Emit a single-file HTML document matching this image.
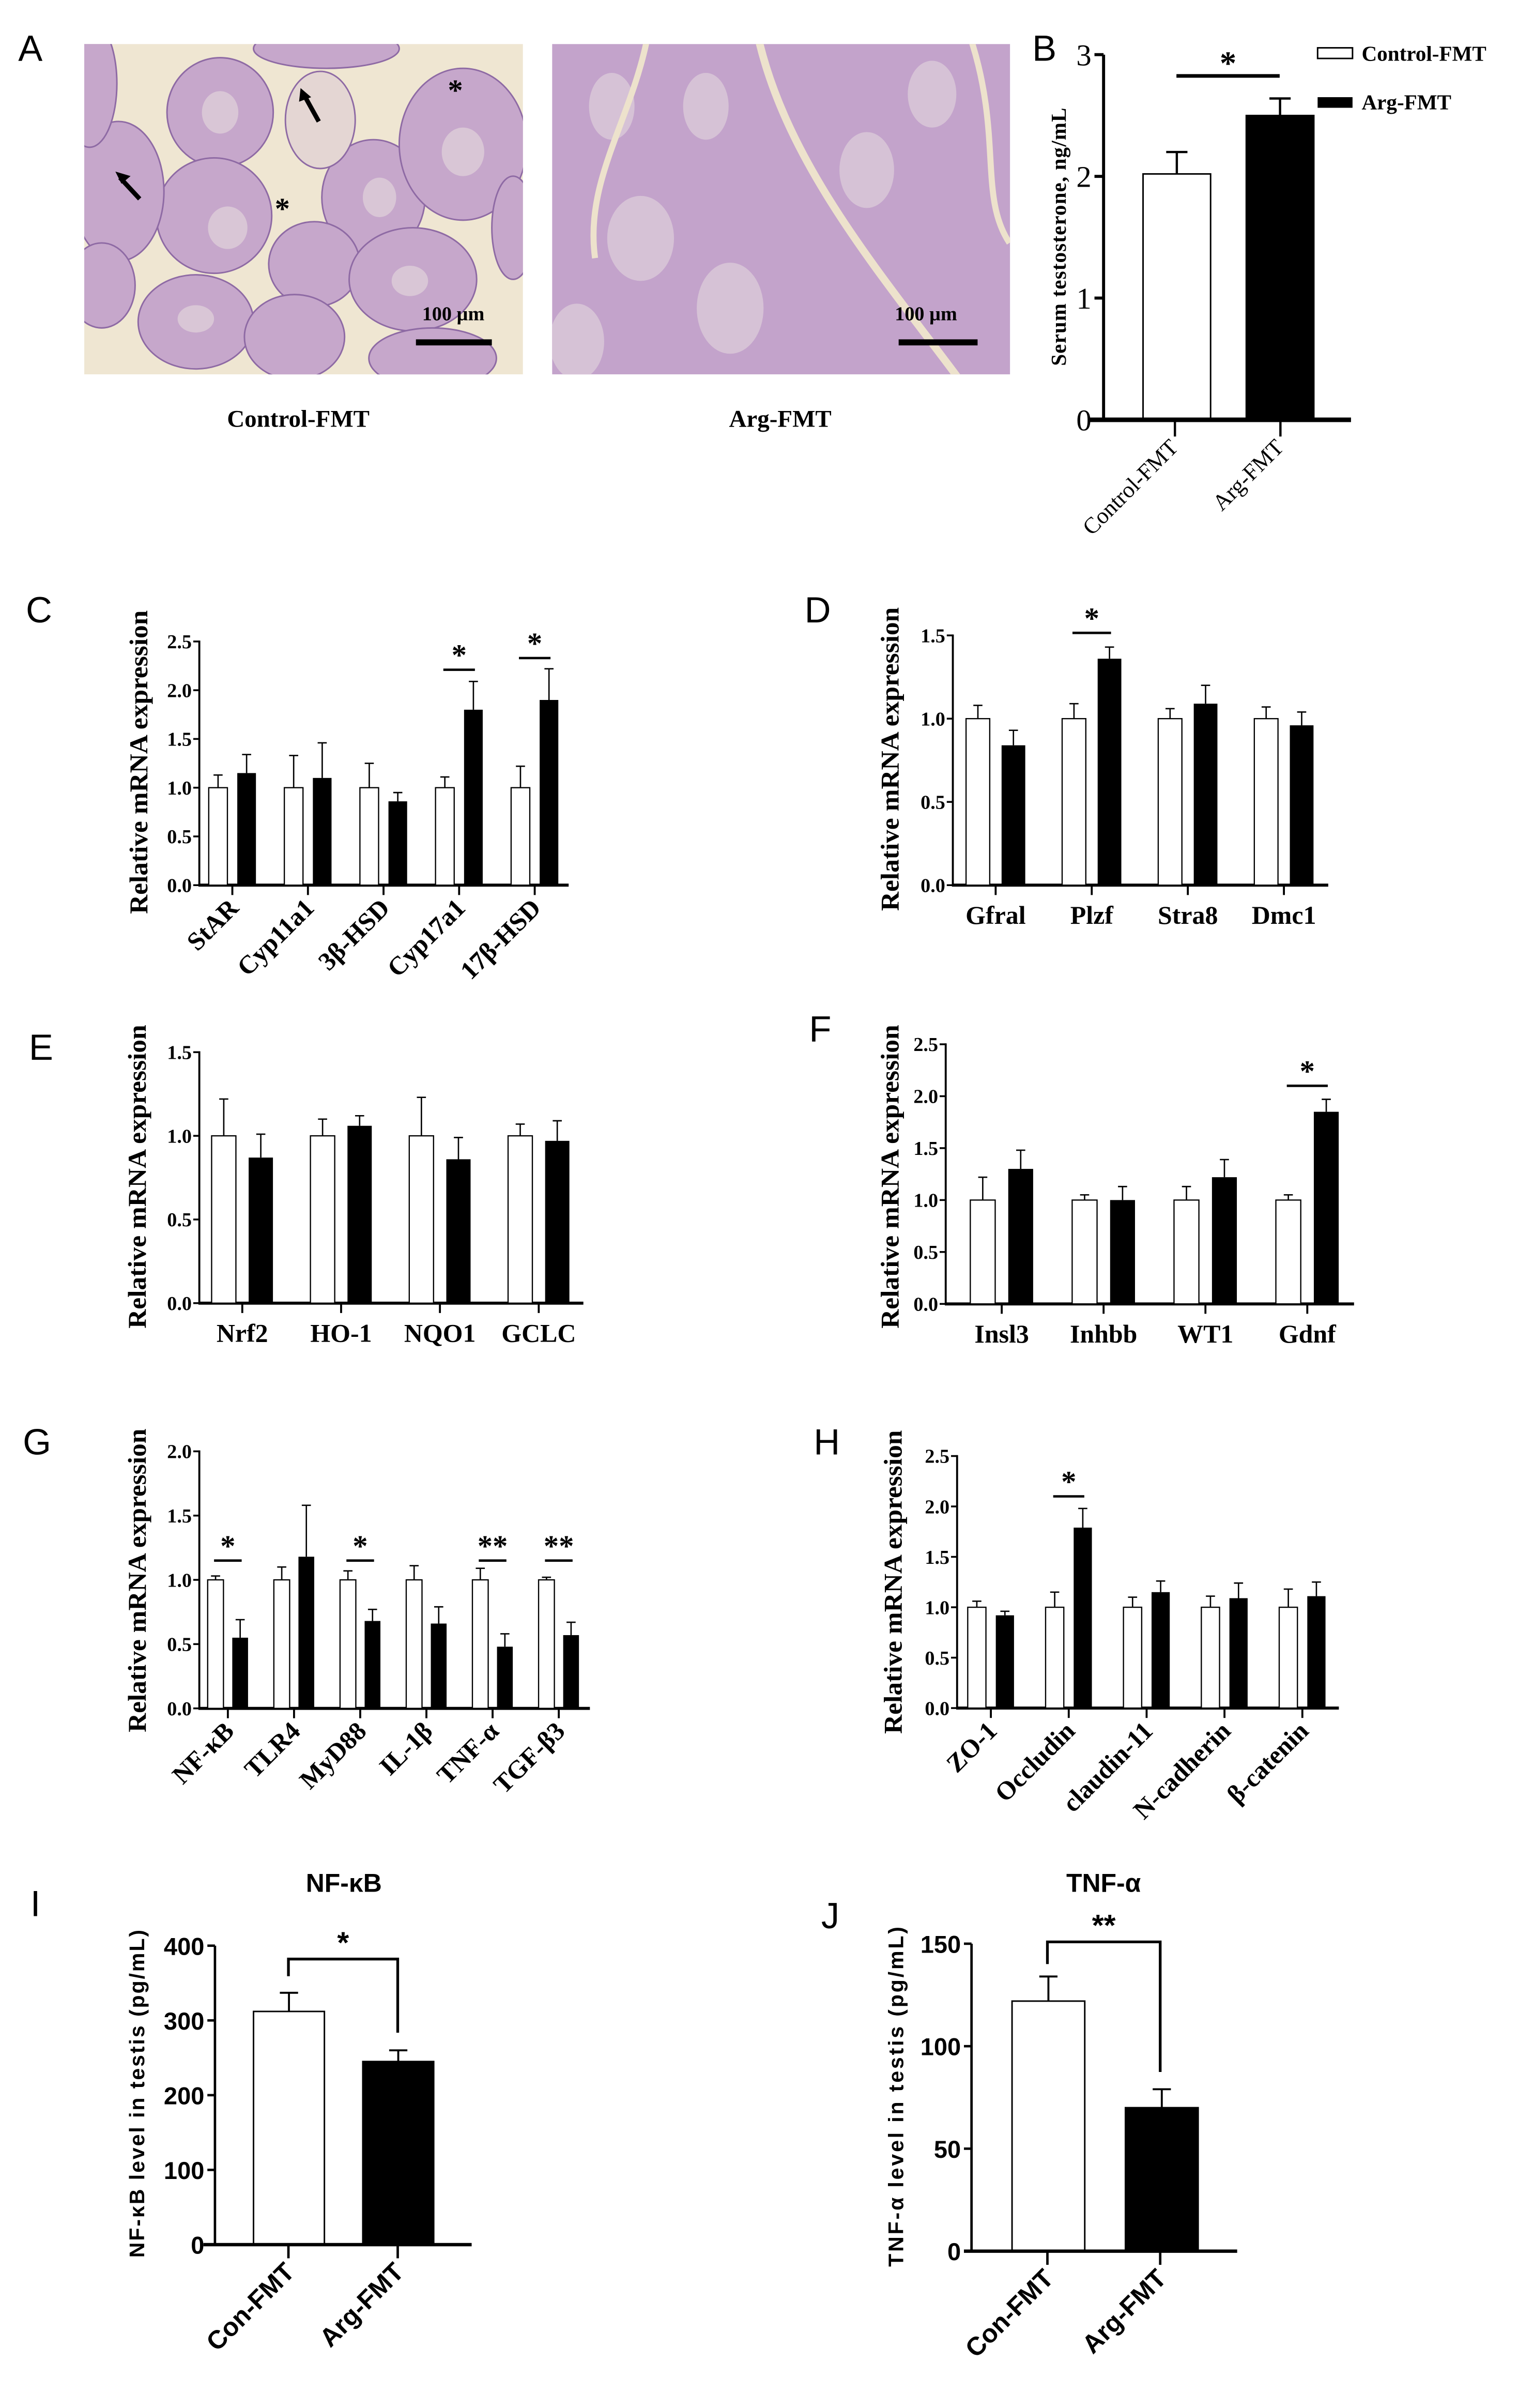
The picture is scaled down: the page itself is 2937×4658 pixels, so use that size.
<!DOCTYPE html>
<html><head><meta charset="utf-8"><style>
html,body{margin:0;padding:0;background:#fff;}
svg{display:block;}
.ser{font-family:"Liberation Serif",serif;font-weight:bold;}
.san{font-family:"Liberation Sans",sans-serif;font-weight:bold;}
</style></head><body>
<svg id="fig" xmlns="http://www.w3.org/2000/svg" width="2937" height="4658" viewBox="0 0 1000 1586">
<rect x="0" y="0" width="1000" height="1586" fill="#fff"/>
<g id="panelA">
 <text x="12" y="40" font-family="Liberation Sans,sans-serif" font-size="24">A</text>
 <clipPath id="c1"><rect x="55.5" y="29" width="289" height="217.6"/></clipPath>
 <clipPath id="c2"><rect x="363.7" y="29" width="301.7" height="217.6"/></clipPath>
 <g clip-path="url(#c1)">
  <rect x="55.5" y="29" width="289" height="217.6" fill="#efe6d2"/>
  <g fill="#c6a7cb" stroke="#8e6aa4" stroke-width="1">
   <ellipse cx="145" cy="74" rx="35" ry="36"/><ellipse cx="141" cy="142" rx="38" ry="38"/>
   <ellipse cx="246" cy="130" rx="34" ry="38"/><ellipse cx="305" cy="95" rx="42" ry="50"/>
   <ellipse cx="207" cy="174" rx="30" ry="28"/><ellipse cx="129" cy="212" rx="38" ry="31"/>
   <ellipse cx="272" cy="184" rx="42" ry="34"/><ellipse cx="285" cy="236" rx="42" ry="20"/>
   <ellipse cx="194" cy="222" rx="33" ry="28"/><ellipse cx="78" cy="126" rx="30" ry="46"/>
   <ellipse cx="59" cy="55" rx="18" ry="42"/><ellipse cx="215" cy="32" rx="48" ry="13"/>
   <ellipse cx="338" cy="150" rx="14" ry="34"/><ellipse cx="67" cy="188" rx="22" ry="28"/>
  </g>
  <ellipse cx="211" cy="79" rx="23" ry="32" fill="#e4d6d3" stroke="#8e6aa4"/>
  <g fill="#d9c6d6"><ellipse cx="145" cy="74" rx="12" ry="14"/><ellipse cx="150" cy="150" rx="13" ry="14"/><ellipse cx="250" cy="130" rx="11" ry="13"/><ellipse cx="305" cy="100" rx="14" ry="16"/><ellipse cx="270" cy="185" rx="12" ry="10"/><ellipse cx="129" cy="210" rx="12" ry="9"/></g>
  <path d="M92,131 L79,117" stroke="#000" stroke-width="3"/><path d="M76,113 L86,116 L80,121 Z" fill="#000"/>
  <path d="M210,80 L200,62" stroke="#000" stroke-width="3"/><path d="M198,58 L205,64 L197,67 Z" fill="#000"/>
  <text x="300" y="66" font-size="20" class="ser" text-anchor="middle">*</text>
  <text x="186" y="144" font-size="20" class="ser" text-anchor="middle">*</text>
  <text x="298.6" y="211" font-size="13" class="ser" text-anchor="middle">100 µm</text>
  <rect x="274" y="223.5" width="50" height="4" fill="#000"/>
 </g>
 <g clip-path="url(#c2)">
  <rect x="363.7" y="29" width="301.7" height="217.6" fill="#c3a3cb"/>
  <g fill="#d6c2d6"><ellipse cx="422" cy="157" rx="22" ry="28"/><ellipse cx="481" cy="203" rx="22" ry="30"/><ellipse cx="571" cy="112" rx="18" ry="25"/><ellipse cx="614" cy="62" rx="16" ry="22"/><ellipse cx="403" cy="70" rx="15" ry="22"/><ellipse cx="465" cy="70" rx="15" ry="22"/><ellipse cx="380" cy="225" rx="18" ry="25"/></g>
  <path d="M500,27 C520,110 580,180 632,250" stroke="#ede2cc" stroke-width="5" fill="none"/>
  <path d="M426,27 C415,80 385,120 392,170" stroke="#ede2cc" stroke-width="4" fill="none"/>
  <path d="M640,27 C660,90 645,130 665,160" stroke="#ede2cc" stroke-width="4" fill="none"/>
  <text x="610" y="211" font-size="13" class="ser" text-anchor="middle">100 µm</text>
  <rect x="592" y="223.5" width="52" height="4" fill="#000"/>
 </g>
 <text x="196.5" y="281" font-size="16" class="ser" text-anchor="middle">Control-FMT</text>
 <text x="514" y="281" font-size="16" class="ser" text-anchor="middle">Arg-FMT</text>
</g>
<g id="root"></g>
</svg>
<script>
// ---- Panel B data ----
const bCats = ["Control-FMT", "Arg-FMT"];
const bMeans = [2.02, 2.5];
const bErrs = [0.18, 0.14];
const bTicks = [0, 1, 2, 3];
// ---- Panel C ----
const cCats = ["StAR", "Cyp11a1", "3β-HSD", "Cyp17a1", "17β-HSD"];
const cCtrl = [1.0, 1.0, 1.0, 1.0, 1.0];
const cCtrlErr = [0.13, 0.33, 0.25, 0.11, 0.22];
const cArg = [1.15, 1.1, 0.86, 1.8, 1.9];
const cArgErr = [0.19, 0.36, 0.09, 0.29, 0.32];
const cTicks = [0, 0.5, 1.0, 1.5, 2.0, 2.5];
const cSig = [null, null, null, "*", "*"];
const cSigLevel = [0, 0, 0, 2.21, 2.33];
// ---- Panel D ----
const dCats = ["Gfral", "Plzf", "Stra8", "Dmc1"];
const dCtrl = [1.0, 1.0, 1.0, 1.0];
const dCtrlErr = [0.08, 0.09, 0.06, 0.07];
const dArg = [0.84, 1.36, 1.09, 0.96];
const dArgErr = [0.09, 0.07, 0.11, 0.08];
const dTicks = [0, 0.5, 1.0, 1.5];
const dSig = [null, "*", null, null];
const dSigLevel = [0, 1.515, 0, 0];
// ---- Panel E ----
const eCats = ["Nrf2", "HO-1", "NQO1", "GCLC"];
const eCtrl = [1.0, 1.0, 1.0, 1.0];
const eCtrlErr = [0.22, 0.1, 0.23, 0.07];
const eArg = [0.87, 1.06, 0.86, 0.97];
const eArgErr = [0.14, 0.06, 0.13, 0.12];
const eTicks = [0, 0.5, 1.0, 1.5];
const eSig = [null, null, null, null];
const eSigLevel = [0, 0, 0, 0];
// ---- Panel F ----
const fCats = ["Insl3", "Inhbb", "WT1", "Gdnf"];
const fCtrl = [1.0, 1.0, 1.0, 1.0];
const fCtrlErr = [0.22, 0.05, 0.13, 0.05];
const fArg = [1.3, 1.0, 1.22, 1.85];
const fArgErr = [0.18, 0.13, 0.17, 0.12];
const fTicks = [0, 0.5, 1.0, 1.5, 2.0, 2.5];
const fSig = [null, null, null, "*"];
const fSigLevel = [0, 0, 0, 2.1];
// ---- Panel G ----
const gCats = ["NF-κB", "TLR4", "MyD88", "IL-1β", "TNF-α", "TGF-β3"];
const gCtrl = [1.0, 1.0, 1.0, 1.0, 1.0, 1.0];
const gCtrlErr = [0.03, 0.1, 0.07, 0.11, 0.09, 0.02];
const gArg = [0.55, 1.18, 0.68, 0.66, 0.48, 0.57];
const gArgErr = [0.14, 0.4, 0.09, 0.13, 0.1, 0.1];
const gTicks = [0, 0.5, 1.0, 1.5, 2.0];
const gSig = ["*", null, "*", null, "**", "**"];
const gSigLevel = [1.15, 0, 1.15, 0, 1.15, 1.15];
// ---- Panel H ----
const hCats = ["ZO-1", "Occludin", "claudin-11", "N-cadherin", "β-catenin"];
const hCtrl = [1.0, 1.0, 1.0, 1.0, 1.0];
const hCtrlErr = [0.06, 0.15, 0.1, 0.11, 0.18];
const hArg = [0.92, 1.79, 1.15, 1.09, 1.11];
const hArgErr = [0.04, 0.19, 0.11, 0.15, 0.14];
const hTicks = [0, 0.5, 1.0, 1.5, 2.0, 2.5];
const hSig = [null, "*", null, null, null];
const hSigLevel = [0, 2.1, 0, 0, 0];
// ---- Panel I ----
const iCats = ["Con-FMT", "Arg-FMT"];
const iMeans = [312, 245];
const iErrs = [25, 15];
const iTicks = [0, 100, 200, 300, 400];
// ---- Panel J ----
const jCats = ["Con-FMT", "Arg-FMT"];
const jMeans = [122, 70];
const jErrs = [12, 9];
const jTicks = [0, 50, 100, 150];

const NS = "http://www.w3.org/2000/svg";
const root = document.getElementById("root");
function mk(tag, attrs, parent, txt) {
  const e = document.createElementNS(NS, tag);
  for (const k in attrs) e.setAttribute(k, attrs[k]);
  if (txt !== undefined) e.textContent = txt;
  (parent || root).appendChild(e);
  return e;
}
function grp(parent) { return mk("g", {}, parent); }

function barPanel(L, cats, ctrl, ctrlErr, arg, argErr, ticks, sig, sigLevel) {
  const g = grp(root);
  
  
  const yMax = ticks[ticks.length - 1];
  const y = v => L.y0 - (v / yMax) * (L.y0 - L.yTop);
  const lab = mk("text", {x: L.lx, y: L.ly, "font-family": "Liberation Sans,sans-serif", "font-size": 24}, g, L.letter);
  
  
  mk("line", {x1: L.ax, y1: L.yTop - 0.6, x2: L.ax, y2: L.y0, stroke: "#000", "stroke-width": 1.3}, g);
  ticks.forEach(t => {
    mk("line", {x1: L.ax - 4, y1: y(t), x2: L.ax, y2: y(t), stroke: "#000", "stroke-width": 1.2}, g);
    const tl = mk("text", {x: L.ax - 5, y: y(t) + 4.5, "text-anchor": "end", "font-size": 13, class: "ser"}, g, t.toFixed(1));
    
    
  });
  const yl = mk("text", {x: 0, y: 0, "text-anchor": "middle", "font-size": 17, class: "ser", textLength: 200, lengthAdjust: "spacingAndGlyphs", transform: `translate(${L.ylx},${L.yly}) rotate(-90)`}, g, "Relative mRNA expression");
  
  
  mk("line", {x1: L.ax - 0.6, y1: L.y0, x2: L.baseEnd, y2: L.y0, stroke: "#000", "stroke-width": 2}, g);
  cats.forEach((c, i) => {
    const wx = L.wl + i * L.sp, bx = wx + L.off;
    const wc = wx + L.w / 2, bc = bx + L.w / 2;
    const tx = (wx + L.w + bx) / 2;
    mk("line", {x1: wc, y1: y(ctrl[i] + ctrlErr[i]), x2: wc, y2: y(ctrl[i] - ctrlErr[i]), stroke: "#000", "stroke-width": 0.9}, g);
    mk("line", {x1: wc - 3, y1: y(ctrl[i] + ctrlErr[i]), x2: wc + 3, y2: y(ctrl[i] + ctrlErr[i]), stroke: "#000", "stroke-width": 0.9}, g);
    mk("line", {x1: wc - 3, y1: y(ctrl[i] - ctrlErr[i]), x2: wc + 3, y2: y(ctrl[i] - ctrlErr[i]), stroke: "#000", "stroke-width": 0.9}, g);
    const r1 = mk("rect", {x: wx, y: y(ctrl[i]), width: L.w, height: L.y0 - y(ctrl[i]), fill: "#fff", stroke: "#000", "stroke-width": 0.8}, g);
    
    
    mk("line", {x1: bc, y1: y(arg[i] + argErr[i]), x2: bc, y2: y(arg[i]), stroke: "#000", "stroke-width": 0.9}, g);
    mk("line", {x1: bc - 3, y1: y(arg[i] + argErr[i]), x2: bc + 3, y2: y(arg[i] + argErr[i]), stroke: "#000", "stroke-width": 0.9}, g);
    const r2 = mk("rect", {x: bx, y: y(arg[i]), width: L.w, height: L.y0 - y(arg[i]), fill: "#000"}, g);
    
    
    mk("line", {x1: tx, y1: L.y0, x2: tx, y2: L.y0 + 6.5, stroke: "#000", "stroke-width": 1.3}, g);
    let t;
    if (L.rot) {
      t = mk("text", {x: 0, y: 0, "text-anchor": "end", "font-size": 17, class: "ser", transform: `translate(${tx + 5},${L.y0 + 16}) rotate(-45)`}, g, c);
    } else {
      t = mk("text", {x: tx, y: L.y0 + 25.5, "text-anchor": "middle", "font-size": 17, class: "ser"}, g, c);
    }
    
    
    if (sig[i]) {
      const ly = y(sigLevel[i]);
      mk("line", {x1: wc - 1, y1: ly, x2: bc + 1, y2: ly, stroke: "#000", "stroke-width": 1.6}, g);
      const s = mk("text", {x: (wc + bc) / 2, y: ly - 3, "text-anchor": "middle", "font-size": 20, class: "ser"}, g, sig[i]);
      
      
    }
  });
}

barPanel({name: "panel-c-chart", letter: "C", lx: 17, ly: 410, ax: 131.3, yTop: 422.5, y0: 583, wl: 137.5, w: 12.3, off: 18.8, sp: 49.8, baseEnd: 374.6, rot: true, ylx: 97, yly: 502}, cCats, cCtrl, cCtrlErr, cArg, cArgErr, cTicks, cSig, cSigLevel);
barPanel({name: "panel-d-chart", letter: "D", lx: 530, ly: 410, ax: 627.7, yTop: 418.5, y0: 583, wl: 636.4, w: 15.6, off: 23.4, sp: 63.3, baseEnd: 875, rot: false, ylx: 592, yly: 500}, dCats, dCtrl, dCtrlErr, dArg, dArgErr, dTicks, dSig, dSigLevel);
barPanel({name: "panel-e-chart", letter: "E", lx: 19, ly: 698, ax: 131.3, yTop: 693, y0: 858.3, wl: 139.4, w: 16, off: 24.4, sp: 65.1, baseEnd: 384.3, rot: false, ylx: 96, yly: 775}, eCats, eCtrl, eCtrlErr, eArg, eArgErr, eTicks, eSig, eSigLevel);
barPanel({name: "panel-f-chart", letter: "F", lx: 533, ly: 686, ax: 623, yTop: 687.8, y0: 858.8, wl: 639.2, w: 16.4, off: 25, sp: 67.1, baseEnd: 892, rot: false, ylx: 592, yly: 775}, fCats, fCtrl, fCtrlErr, fArg, fArgErr, fTicks, fSig, fSigLevel);
barPanel({name: "panel-g-chart", letter: "G", lx: 15, ly: 958, ax: 131.3, yTop: 955.9, y0: 1125.2, wl: 136.8, w: 10.4, off: 16.2, sp: 43.6, baseEnd: 388.6, rot: true, ylx: 96, yly: 1041}, gCats, gCtrl, gCtrlErr, gArg, gArgErr, gTicks, gSig, gSigLevel);
barPanel({name: "panel-h-chart", letter: "H", lx: 536, ly: 958, ax: 630.5, yTop: 959, y0: 1125, wl: 637.5, w: 12, off: 18.5, sp: 51.3, baseEnd: 882, rot: true, ylx: 594, yly: 1042}, hCats, hCtrl, hCtrlErr, hArg, hArgErr, hTicks, hSig, hSigLevel);

// ---- Panel B ----
(function () {
  const g = grp(root);
  
  
  const ax = 727, y0 = 276.5, yTop = 36, yMax = bTicks[bTicks.length - 1];
  const y = v => y0 - v / yMax * (y0 - yTop);
  const L = mk("text", {x: 680, y: 40, "font-family": "Liberation Sans,sans-serif", "font-size": 24}, g, "B");
  
  
  mk("line", {x1: ax, y1: yTop, x2: ax, y2: y0, stroke: "#000", "stroke-width": 2}, g);
  bTicks.forEach(t => {
    mk("line", {x1: ax - 6, y1: y(t), x2: ax, y2: y(t), stroke: "#000", "stroke-width": 2}, g);
    const tl = mk("text", {x: ax - 8, y: y(t) + 7, "text-anchor": "end", "font-size": 20, class: "ser", style: "font-weight:normal"}, g, String(t));
    
    
  });
  const yl = mk("text", {x: 0, y: 0, "text-anchor": "middle", "font-size": 14, class: "ser", textLength: 170, lengthAdjust: "spacing", transform: `translate(702,156) rotate(-90)`}, g, "Serum testosterone, ng/mL");
  
  
  const lefts = [753, 821], w = 44.5, ticksX = [774, 843.5];
  bCats.forEach((c, i) => {
    const cx = lefts[i] + w / 2;
    const top = y(bMeans[i] + bErrs[i]);
    const bot = i === 0 ? y(bMeans[i] - bErrs[i]) : y(bMeans[i]);
    mk("line", {x1: cx, y1: top, x2: cx, y2: bot, stroke: "#000", "stroke-width": 1.5}, g);
    mk("line", {x1: cx - 7, y1: top, x2: cx + 7, y2: top, stroke: "#000", "stroke-width": 1.5}, g);
    if (i === 0) mk("line", {x1: cx - 7, y1: bot, x2: cx + 7, y2: bot, stroke: "#000", "stroke-width": 1.5}, g);
    const r = mk("rect", {x: lefts[i], y: y(bMeans[i]), width: w, height: y0 - y(bMeans[i]), fill: i ? "#000" : "#fff", stroke: "#000", "stroke-width": 1}, g);
    
    
    mk("line", {x1: ticksX[i], y1: y0, x2: ticksX[i], y2: y0 + 11, stroke: "#000", "stroke-width": 1.5}, g);
    const t = mk("text", {x: 0, y: 0, "text-anchor": "end", "font-size": 15, class: "ser", style: "font-weight:normal", transform: `translate(${ticksX[i] + 3},${y0 + 19}) rotate(-45)`}, g, c);
    
    
  });
  mk("line", {x1: 718, y1: y0, x2: 890, y2: y0, stroke: "#000", "stroke-width": 3}, g);
  mk("line", {x1: 775, y1: 50, x2: 843, y2: 50, stroke: "#000", "stroke-width": 2.4}, g);
  const s = mk("text", {x: 809, y: 49, "text-anchor": "middle", "font-size": 22, class: "ser"}, g, "*");
  
  
  const lg = grp(g);
  
  
  mk("rect", {x: 868, y: 31.5, width: 23, height: 7, fill: "#fff", stroke: "#000", "stroke-width": 1}, lg);
  const l1 = mk("text", {x: 897, y: 40, "font-size": 14, class: "ser"}, lg, "Control-FMT");
  
  
  mk("rect", {x: 868, y: 64, width: 23, height: 7, fill: "#000"}, lg);
  const l2 = mk("text", {x: 897, y: 72, "font-size": 14, class: "ser"}, lg, "Arg-FMT");
  
  
})();

// ---- Panels I, J ----
function elisa(P, cats, means, errs, ticks) {
  const g = grp(root);
  
  
  const yMax = ticks[ticks.length - 1];
  const y = v => P.y0 - v / yMax * (P.y0 - P.yTop);
  const L = mk("text", {x: P.lx, y: P.ly, "font-family": "Liberation Sans,sans-serif", "font-size": 24}, g, P.letter);
  
  
  const ti = mk("text", {x: P.tx, y: 1246, "text-anchor": "middle", "font-size": 17, class: "san"}, g, P.title);
  
  
  mk("line", {x1: P.ax, y1: P.yTop, x2: P.ax, y2: P.y0, stroke: "#000", "stroke-width": 1.6}, g);
  ticks.forEach(t => {
    mk("line", {x1: P.ax - 5, y1: y(t), x2: P.ax, y2: y(t), stroke: "#000", "stroke-width": 1.6}, g);
    const tl = mk("text", {x: P.ax - 7, y: y(t) + 6, "text-anchor": "end", "font-size": 16, class: "san"}, g, String(t));
    
    
  });
  const yl = mk("text", {x: 0, y: 0, "text-anchor": "middle", "font-size": 14, class: "san", textLength: P.ylen, lengthAdjust: "spacing", transform: `translate(${P.ylx},${P.yly}) rotate(-90)`}, g, P.ytitle);
  
  
  cats.forEach((c, i) => {
    const x = P.lefts[i], cx = x + P.w / 2;
    mk("line", {x1: cx, y1: y(means[i] + errs[i]), x2: cx, y2: y(means[i]), stroke: "#000", "stroke-width": 1.3}, g);
    mk("line", {x1: cx - 6, y1: y(means[i] + errs[i]), x2: cx + 6, y2: y(means[i] + errs[i]), stroke: "#000", "stroke-width": 1.3}, g);
    const r = mk("rect", {x: x, y: y(means[i]), width: P.w, height: P.y0 - y(means[i]), fill: i ? "#000" : "#fff", stroke: "#000", "stroke-width": 1}, g);
    
    
    mk("line", {x1: P.ticksX[i], y1: P.y0, x2: P.ticksX[i], y2: P.y0 + 9, stroke: "#000", "stroke-width": 1.6}, g);
    const t = mk("text", {x: 0, y: 0, "text-anchor": "end", "font-size": 17, class: "san", transform: `translate(${P.ticksX[i] + 5},${P.y0 + 19}) rotate(-45)`}, g, c);
    
    
  });
  mk("line", {x1: P.b0, y1: P.y0, x2: P.b1, y2: P.y0, stroke: "#000", "stroke-width": 2.2}, g);
  const [x1, x2] = P.ticksX;
  mk("path", {d: `M${x1},${P.brL} V${P.brTop} H${x2} V${P.brR}`, fill: "none", stroke: "#000", "stroke-width": 1.8}, g);
  const s = mk("text", {x: (x1 + x2) / 2, y: P.brTop - 4, "text-anchor": "middle", "font-size": 20, class: "san"}, g, P.sig);
  
  
}
elisa({name: "panel-i-chart", letter: "I", lx: 20, ly: 1262, title: "NF-κB", tx: 226.5, ax: 141.6, yTop: 1281.5, y0: 1478.4, w: 46.7, lefts: [167, 239], ticksX: [190, 262], b0: 134, b1: 310.7, ylx: 95, yly: 1379, ylen: 216, ytitle: "NF-κB level in testis (pg/mL)", brL: 1301.6, brTop: 1290.3, brR: 1338.8, sig: "*"}, iCats, iMeans, iErrs, iTicks);
elisa({name: "panel-j-chart", letter: "J", lx: 541, ly: 1270, title: "TNF-α", tx: 727, ax: 640, yTop: 1280.2, y0: 1482.7, w: 47.9, lefts: [666.7, 741.4], ticksX: [690, 764.3], b0: 635, b1: 815, ylx: 595, yly: 1381, ylen: 224, ytitle: "TNF-α level in testis (pg/mL)", brL: 1293.6, brTop: 1279, brR: 1364.7, sig: "**"}, jCats, jMeans, jErrs, jTicks);
</script>
</body></html>
